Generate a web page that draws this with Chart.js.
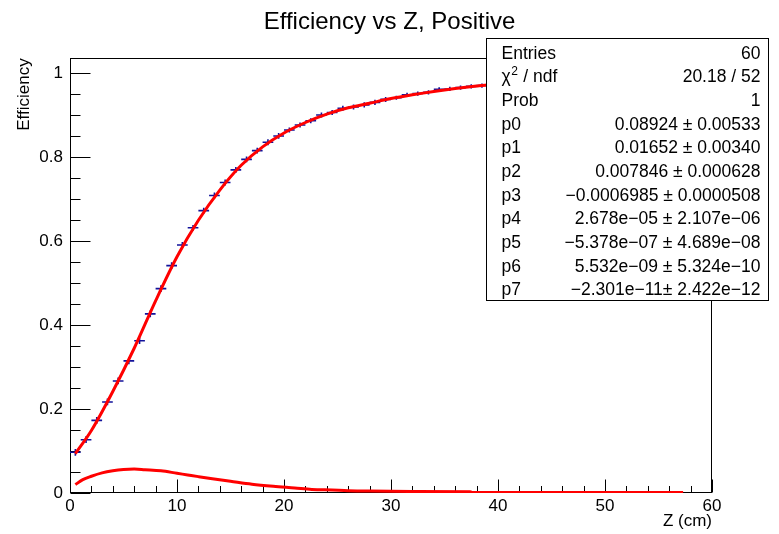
<!DOCTYPE html>
<html><head><meta charset="utf-8">
<script src="https://cdn.jsdelivr.net/npm/chart.js@4.4.1/dist/chart.umd.min.js"></script>
<style>html,body{margin:0;padding:0;background:#fff;} canvas{display:block;}</style>
</head><body>
<canvas id="c" width="779" height="534"></canvas>
<script>
const chartTitle = "Efficiency vs Z, Positive";
const xTitle = "Z (cm)";
const yTitle = "Efficiency";
const xTickValues = [0, 10, 20, 30, 40, 50, 60];
const xTickLabels = ["0", "10", "20", "30", "40", "50", "60"];
const yTickValues = [0, 0.2, 0.4, 0.6, 0.8, 1];
const yTickLabels = ["0", "0.2", "0.4", "0.6", "0.8", "1"];

const binHalfWidth = 0.5;
const binCenters = [0.5,1.5,2.5,3.5,4.5,5.5,6.5,7.5,8.5,9.5,
  10.5,11.5,12.5,13.5,14.5,15.5,16.5,17.5,18.5,19.5,
  20.5,21.5,22.5,23.5,24.5,25.5,26.5,27.5,28.5,29.5,
  30.5,31.5,32.5,33.5,34.5,35.5,36.5,37.5,38.5,39.5,
  40.5,41.5,42.5,43.5,44.5,45.5,46.5,47.5,48.5,49.5,
  50.5,51.5,52.5,53.5,54.5,55.5,56.5,57.5];
const efficiency = [0.097,0.127,0.173,0.217,0.267,0.315,0.363,0.427,0.487,0.542,
  0.591,0.632,0.673,0.709,0.740,0.770,0.795,0.816,0.836,0.851,
  0.865,0.877,0.887,0.901,0.907,0.917,0.920,0.925,0.931,0.938,
  0.942,0.949,0.952,0.955,0.962,0.963,0.966,0.969,0.971,0.973,
  0.975,0.976,0.978,0.979,0.980,0.981,0.982,0.983,0.983,0.984,
  0.985,0.985,0.986,0.986,0.987,0.987,0.988,0.988];
const efficiencyErr = [0.008,0.008,0.008,0.008,0.008,0.008,0.008,0.008,0.008,0.008,
  0.007,0.007,0.007,0.007,0.007,0.007,0.007,0.007,0.007,0.007,
  0.006,0.006,0.006,0.006,0.006,0.006,0.006,0.006,0.006,0.006,
  0.005,0.005,0.005,0.005,0.005,0.005,0.005,0.005,0.005,0.005,
  0.005,0.005,0.005,0.005,0.005,0.005,0.005,0.005,0.005,0.005,
  0.005,0.005,0.005,0.005,0.005,0.005,0.005,0.005];

const fitZ = [0.5,2,4,6,8,10,12,14,16,18,20,22,24,26,28,30,32,34,36,38,40,44,48,52,57.5];
const fitEff = [0.094,0.149,0.242,0.345,0.458,0.563,0.650,0.722,0.781,0.825,0.858,0.883,0.903,0.918,0.929,0.940,0.949,0.957,0.964,0.970,0.975,0.980,0.983,0.986,0.990];

const lowerZ = [0.5,1.2,2,3,4,5,6,7,8.5,10,11,12,13.3,15,17,19,21,22.6,24.5,26,28,32,37.4,37.6,45,57.3];
const lowerVal = [0.020,0.032,0.040,0.048,0.053,0.056,0.057,0.0555,0.053,0.047,0.043,0.039,0.034,0.028,0.021,0.016,0.012,0.0086,0.007,0.0055,0.0045,0.0035,0.003,0.001,0.001,0.001];

const statsLabels = ["Entries", "χ2 / ndf", "Prob", "p0", "p1", "p2", "p3", "p4", "p5", "p6", "p7"];
const statsValues = ["60", "20.18 / 52", "1",
  "0.08924 ± 0.00533", "0.01652 ± 0.00340", "0.007846 ± 0.000628",
  "−0.0006985 ± 0.0000508", "2.678e−05 ± 2.107e−06", "−5.378e−07 ± 4.689e−08",
  "5.532e−09 ± 5.324e−10", "−2.301e−11± 2.422e−12"];

const FONT = '"Liberation Sans", Arial, Helvetica, sans-serif';
const RED = '#ff0000';
const BLUE = '#12129a';

const rootPlugin = {
  id: 'rootStyle',
  beforeDatasetsDraw(chart) {
    const {ctx, chartArea: a, scales: {x, y}} = chart;
    ctx.save();
    ctx.strokeStyle = '#000';
    ctx.lineWidth = 1;
    const L = Math.round(a.left) + 0.5, R = Math.round(a.right) - 0.5;
    const T = Math.round(a.top) + 0.5, B = Math.round(a.bottom) - 0.5;
    ctx.strokeRect(L, T, R - L, B - T);
    ctx.beginPath();
    for (let k = 0; k <= 20; k++) {
      const v = k * 0.05;
      if (v > y.max) break;
      const py = Math.round(y.getPixelForValue(v)) + 0.5;
      const len = (k % 4 === 0) ? 20 : 10;
      ctx.moveTo(L, py); ctx.lineTo(L + len, py);
    }
    for (let k = 0; k <= 30; k++) {
      const v = k * 2;
      const px = Math.round(x.getPixelForValue(v)) + 0.5;
      const len = (k % 5 === 0) ? 13 : 6.5;
      ctx.moveTo(px, B); ctx.lineTo(px, B - len);
    }
    ctx.stroke();
    ctx.strokeStyle = BLUE;
    ctx.lineWidth = 1.6;
    ctx.beginPath();
    binCenters.forEach((z, i) => {
      const py = y.getPixelForValue(efficiency[i]);
      const px = x.getPixelForValue(z);
      ctx.moveTo(x.getPixelForValue(z - binHalfWidth), py);
      ctx.lineTo(x.getPixelForValue(z + binHalfWidth), py);
      ctx.moveTo(px, y.getPixelForValue(efficiency[i] - efficiencyErr[i]));
      ctx.lineTo(px, y.getPixelForValue(efficiency[i] + efficiencyErr[i]));
    });
    ctx.stroke();
    ctx.restore();
  },
  afterDraw(chart) {
    const ctx = chart.ctx;
    ctx.save();
    const bx = 486.5, by = 38.5, bw = 282, bh = 262;
    ctx.fillStyle = '#fff';
    ctx.fillRect(bx, by, bw, bh);
    ctx.strokeStyle = '#000';
    ctx.lineWidth = 1;
    ctx.strokeRect(bx, by, bw, bh);
    ctx.fillStyle = '#000';
    const fs = 17.5;
    ctx.font = fs + 'px ' + FONT;
    ctx.textBaseline = 'alphabetic';
    const lx = 501.5, rx = 760.5;
    for (let i = 0; i < statsLabels.length; i++) {
      const base = 58.5 + i * 23.67;
      ctx.textAlign = 'left';
      const lab = statsLabels[i];
      if (lab.startsWith('χ2')) {
        ctx.fillText('χ', lx, base);
        const w = ctx.measureText('χ').width;
        ctx.font = '12px ' + FONT;
        ctx.fillText('2', lx + w + 0.5, base - 7);
        const w2 = ctx.measureText('2').width;
        ctx.font = fs + 'px ' + FONT;
        ctx.fillText(lab.slice(2), lx + w + w2 + 1, base);
      } else {
        ctx.fillText(lab, lx, base);
      }
      ctx.textAlign = 'right';
      ctx.fillText(statsValues[i], rx, base);
    }
    ctx.restore();
  }
};

new Chart(document.getElementById('c'), {
  type: 'scatter',
  data: {
    datasets: [
      {
        label: 'fit',
        data: fitZ.map((z, i) => ({x: z, y: fitEff[i]})),
        showLine: true, borderColor: RED, borderWidth: 3, pointRadius: 0,
        cubicInterpolationMode: 'monotone', fill: false
      },
      {
        label: 'lower',
        data: lowerZ.map((z, i) => ({x: z, y: lowerVal[i]})),
        showLine: true, borderColor: RED, borderWidth: 3, pointRadius: 0,
        cubicInterpolationMode: 'monotone', fill: false
      }
    ]
  },
  options: {
    responsive: false,
    devicePixelRatio: 1,
    animation: false,
    layout: {padding: 0},
    plugins: {
      legend: {display: false},
      tooltip: {enabled: false},
      title: {
        display: true, text: chartTitle, color: '#000',
        font: {size: 24, family: FONT, weight: 'normal'},
        padding: {top: 8, bottom: 21.5}
      }
    },
    scales: {
      x: {
        type: 'linear', min: 0, max: 60,
        grid: {display: false, drawTicks: false},
        border: {display: false},
        afterBuildTicks: s => { s.ticks = xTickValues.map(v => ({value: v})); },
        afterFit: s => { s.height = 41; },
        ticks: {
          autoSkip: false, maxRotation: 0, padding: 3, color: '#000',
          font: {size: 17, family: FONT},
          callback: (v, i) => xTickLabels[i]
        },
        title: {
          display: true, text: xTitle, align: 'end', color: '#000',
          font: {size: 17, family: FONT}, padding: {top: 0, bottom: 2}
        }
      },
      y: {
        type: 'linear', min: 0, max: 1.036,
        grid: {display: false, drawTicks: false},
        border: {display: false},
        afterBuildTicks: s => { s.ticks = yTickValues.map(v => ({value: v})); },
        afterFit: s => { s.width = 70; },
        ticks: {
          padding: 7, color: '#000',
          font: {size: 17, family: FONT},
          callback: (v, i) => yTickLabels[i]
        },
        title: {
          display: true, text: yTitle, align: 'end', color: '#000',
          font: {size: 17, family: FONT}, padding: {top: 14.6, bottom: 0}
        }
      },
      yRight: {
        type: 'linear', position: 'right', min: 0, max: 1.036,
        grid: {display: false, drawTicks: false},
        border: {display: false},
        ticks: {display: false},
        afterFit: s => { s.width = 67; }
      }
    }
  },
  plugins: [rootPlugin]
});
</script>
</body></html>
